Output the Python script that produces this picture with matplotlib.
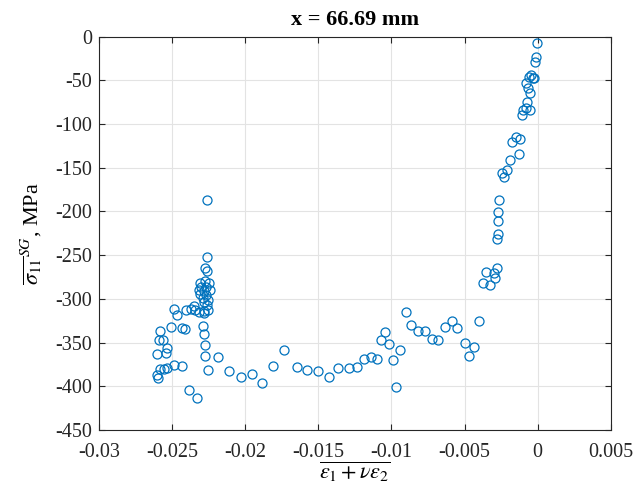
import matplotlib
matplotlib.use("Agg")
import matplotlib.pyplot as plt
import numpy as np

plt.rcParams['font.family'] = ['Liberation Serif', 'DejaVu Serif']
plt.rcParams['mathtext.fontset'] = 'stix'

# strain sum (x) and stress (y) values
strain = [
    -0.02259, -0.02264, -0.02277, -0.02264,
    -0.02311, -0.02277, -0.02248, -0.02300, -0.02266, -0.02316, -0.02284, -0.02243,
    -0.02307, -0.02270, -0.02289, -0.02255, -0.02284,
    -0.02262, -0.02407, -0.02368, -0.02346, -0.02318, -0.02284, -0.02257, -0.02350, -0.02282,
    -0.02487, -0.02469, -0.02505, -0.02434, -0.02409, -0.02583, -0.02587, -0.02562,
    -0.02532, -0.02544, -0.02603, -0.02289, -0.02282, -0.02277, -0.02277, -0.02186,
    -0.02583, -0.02559, -0.02532, -0.02487, -0.02434, -0.02603, -0.02596,
    -0.02387, -0.02330, -0.02257,
    -0.02109, -0.02031, -0.01954, -0.01883, -0.01808, -0.01736, -0.01647, -0.01576,
    -0.01501, -0.01430, -0.01364, -0.01294, -0.01234, -0.01191, -0.01139, -0.01102,
    -0.01070, -0.01043, -0.01016, -0.00991, -0.00943, -0.00968, -0.00902, -0.00870,
    -0.00820, -0.00772, -0.00725, -0.00684, -0.00631, -0.00588, -0.00549, -0.00404,
    -0.00499, -0.00435, -0.00467,
    -0.00005, -0.00011, -0.00018, -0.00046, -0.00034, -0.00023, -0.00057, -0.00078,
    -0.00069, -0.00052, -0.00076, -0.00080, -0.00098, -0.00050, -0.00107, -0.00148,
    -0.00175, -0.00119, -0.00128, -0.00192, -0.00212, -0.00246, -0.00228, -0.00262,
    -0.00274, -0.00274, -0.00269, -0.00281, -0.00281, -0.00353, -0.00296, -0.00294,
    -0.00371, -0.00324,
]
stress = [
    -187.0, -252.5, -265.0, -268.5,
    -281.5, -280.0, -282.0, -286.0, -286.0, -290.0, -291.0, -290.0,
    -294.5, -295.5, -299.5, -301.5, -303.5,
    -307.5, -313.0, -311.5, -313.0, -315.0, -314.0, -313.0, -308.5, -316.5,
    -311.5, -318.0, -332.0, -333.0, -334.5, -336.5, -346.5, -346.5,
    -356.0, -361.5, -363.5, -330.5, -340.5, -352.5, -365.0, -366.5,
    -380.5, -380.5, -379.0, -376.0, -377.0, -387.5, -390.0,
    -404.0, -413.5, -381.5,
    -382.5, -389.0, -385.5, -396.5, -377.0, -358.0, -378.5, -381.0,
    -382.5, -389.0, -379.5, -379.5, -377.5, -368.5, -366.5, -369.0,
    -346.5, -337.5, -351.5, -370.0, -359.0, -401.0, -315.5, -330.0,
    -336.5, -336.5, -345.5, -347.5, -332.0, -325.5, -333.0, -325.5,
    -350.5, -355.0, -365.0,
    -7.8, -23.0, -29.2, -44.0, -47.0, -47.8, -46.7, -53.5,
    -59.3, -64.3, -75.0, -82.2, -84.0, -84.0, -89.8, -115.3,
    -120.7, -117.3, -134.8, -141.0, -152.5, -156.5, -160.4, -187.4,
    -200.5, -211.2, -226.0, -232.0, -265.2, -269.1, -271.0, -276.0,
    -281.7, -284.6,
]

x_ticks = [-0.03, -0.025, -0.02, -0.015, -0.01, -0.005, 0, 0.005]
x_tick_labels = ['-0.03', '-0.025', '-0.02', '-0.015', '-0.01', '-0.005', '0', '0.005']
y_ticks = [-450, -400, -350, -300, -250, -200, -150, -100, -50, 0]
y_tick_labels = [str(v) for v in y_ticks]

fig = plt.figure(figsize=(6.43, 4.90), dpi=100)
ax = fig.add_axes([0.154, 0.1224, 0.796, 0.8031])

ax.plot(strain, stress, linestyle='none', marker='o', markersize=6.5,
        markerfacecolor='none', markeredgecolor='#0072BD', markeredgewidth=0.9)

ax.set_xlim(-0.03, 0.005)
ax.set_ylim(-450, 0)
ax.set_xticks(x_ticks)
ax.set_xticklabels(x_tick_labels)
ax.set_yticks(y_ticks)
ax.set_yticklabels(y_tick_labels)

ax.grid(True, color='#e3e3e3', linewidth=0.8)
ax.set_axisbelow(True)
for s in ax.spines.values():
    s.set_color('#262626')
    s.set_linewidth(0.8)
ax.tick_params(direction='in', top=True, right=True, length=4, width=0.8,
               colors='#262626', labelsize=14.5, labelcolor='#262626')
ax.tick_params(axis='x', pad=9)
ax.tick_params(axis='y', pad=5)

ax.set_title('x = 66.69 mm', fontsize=16, fontweight='bold', pad=8)
ax.set_xlabel(r'$\overline{\epsilon_1+\nu\epsilon_2}$', fontsize=16, labelpad=-1)
ax.set_ylabel(r'$\overline{\sigma_{11}}^{SG}$, MPa', fontsize=16, labelpad=8)

fig.savefig('out.png', dpi=100)
